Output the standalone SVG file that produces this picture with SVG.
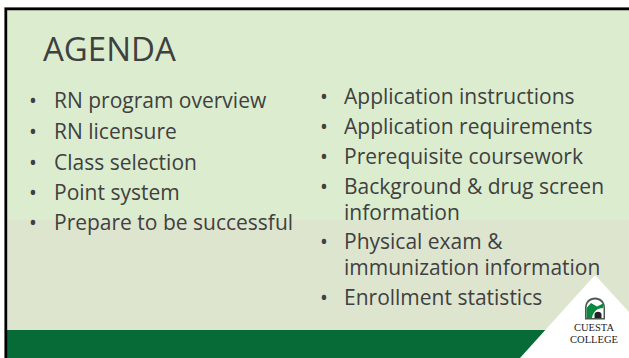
<svg xmlns="http://www.w3.org/2000/svg" width="629" height="358" viewBox="0 0 629 358">
<style>
.t{font-family:"Open Sans","Noto Sans",sans-serif;font-size:21px;fill:#404040}
.l{font-family:"Liberation Serif",serif;fill:#222;text-anchor:middle;font-size:10.200px}
</style>
<rect width="629" height="358" fill="#fff"/>
<rect x="6" y="9" width="623" height="211" fill="#dcedcf"/>
<rect x="6" y="220" width="623" height="110" fill="#dee5cf"/>
<rect x="6" y="330" width="623" height="28" fill="#066b37"/>
<path d="M4.500 358V7.500H629" fill="none" stroke="#8a8a80" stroke-width="1"/>
<path d="M6 358V9H629" fill="none" stroke="#000" stroke-width="2.400"/>
<text x="43" y="61" font-family="Open Sans,Noto Sans,sans-serif" font-size="33" fill="#404040">AGENDA</text>
<g class="t">
<text x="29" y="108">•</text><text x="54" y="108">RN program overview</text>
<text x="29" y="139">•</text><text x="54" y="139">RN licensure</text>
<text x="29" y="170">•</text><text x="54" y="170">Class selection</text>
<text x="29" y="200">•</text><text x="54" y="200">Point system</text>
<text x="29" y="230">•</text><text x="54" y="230">Prepare to be successful</text>
<text x="320" y="104">•</text><text x="344" y="104">Application instructions</text>
<text x="320" y="134">•</text><text x="344" y="134">Application requirements</text>
<text x="320" y="164">•</text><text x="344" y="164">Prerequisite coursework</text>
<text x="320" y="193.500">•</text><text x="344" y="193.500">Background &amp; drug screen</text>
<text x="344" y="220">information</text>
<text x="320" y="249">•</text><text x="344" y="249">Physical exam &amp;</text>
<text x="344" y="275">immunization information</text>
<text x="320" y="305">•</text><text x="344" y="305">Enrollment statistics</text>
</g>
<g id="logo">
<path d="M595 275L629 312V358H520Z" fill="#fff"/>
<path d="M585 319.500V308C585 301.500 589.500 297.500 595 297.500C600.500 297.500 605 301.500 605 308V319.500Z" fill="#4c5a52"/>
<path d="M586.500 318V308.500C586.500 303 590 299.500 595 299.500C600 299.500 603.500 303 603.500 308.500V318Z" fill="#fff"/>
<path d="M586.500 318V308L591 303L597 306.500L603 303.500V308C597 308 593 312 592 318Z" fill="#0b8a3f"/>
<path d="M594.500 318V314C595.500 311 600.500 311 601.500 314V318Z" fill="#222"/>
<text class="l" x="594" y="331" textLength="40" lengthAdjust="spacingAndGlyphs">CUESTA</text>
<text class="l" x="594" y="342.500" textLength="48" lengthAdjust="spacingAndGlyphs">COLLEGE</text>
</g>
</svg>
